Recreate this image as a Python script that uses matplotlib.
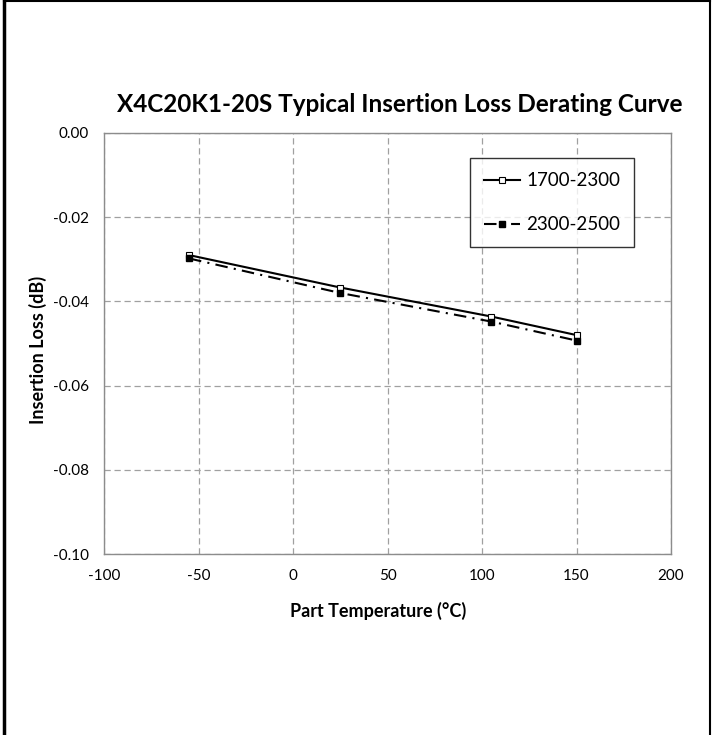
import matplotlib
matplotlib.use("Agg")
import matplotlib.pyplot as plt
from matplotlib.lines import Line2D

temps = [-55, 25, 105, 150]
loss_1700_2300 = [-0.0290, -0.0367, -0.0436, -0.0480]
loss_2300_2500 = [-0.0298, -0.0380, -0.0448, -0.0493]
series_labels = ["1700-2300", "2300-2500"]
xticks = [-100, -50, 0, 50, 100, 150, 200]
yticks = [0.00, -0.02, -0.04, -0.06, -0.08, -0.10]

plt.rcParams['font.family'] = ['Lato', 'DejaVu Sans']

fig = plt.figure(figsize=(7.12, 7.35), dpi=100)
L, R, T, B = 104, 671, 133, 554
ax = fig.add_axes([L/712, 1-B/735, (R-L)/712, (B-T)/735])

ax.plot(temps, loss_1700_2300, color='black', lw=1.5, marker='s', ms=5,
        mfc='white', mec='black', mew=0.8, label=series_labels[0])
ax.plot(temps, loss_2300_2500, color='black', lw=1.5, ls=(0, (6, 3, 1, 3)),
        marker='s', ms=5, mfc='black', mec='black', label=series_labels[1])

ax.set_xlim(-100, 200)
ax.set_ylim(-0.10, 0.0)
ax.set_xticks(xticks)
ax.set_yticks(yticks)
ax.set_xticklabels([f"{v}" for v in xticks])
ax.set_yticklabels([f"{v:.2f}" for v in yticks])
ax.tick_params(length=0, labelsize=11)
ax.tick_params(axis='x', pad=11)
ax.tick_params(axis='y', pad=11)
ax.grid(True, color='#a0a0a0', ls=(0, (5, 3)), lw=0.9)
for s in ax.spines.values():
    s.set_color('#8c8c8c')
    s.set_linewidth(1.0)

ax.set_xlabel("Part Temperature (\u00b0C)", fontsize=13, fontweight='bold')
ax.set_ylabel("Insertion Loss (dB)", fontsize=13, fontweight='bold')
ax.xaxis.set_label_coords((378-L)/(R-L), (B-611)/(B-T))
ax.yaxis.set_label_coords((38-L)/(R-L), (B-350)/(B-T))
ax.xaxis.label.set_va('center')
ax.yaxis.label.set_va('center')
fig.text(400/712, 1-105/735, "X4C20K1-20S Typical Insertion Loss Derating Curve",
         fontsize=17.5, fontweight='bold', ha='center', va='center')

leg = ax.legend(loc='upper left', bbox_to_anchor=((470-L)/(R-L), (B-158)/(B-T)),
                borderaxespad=0, fontsize=13.5,
                frameon=True, fancybox=False, handlelength=1.9, labelspacing=1.45,
                borderpad=0.75, handletextpad=0.35, markerscale=0.8)
leg.get_frame().set_edgecolor('black')
leg.get_frame().set_linewidth(1.0)

# outer border
fig.add_artist(Line2D([0.005, 0.005], [0, 0.998], color='black', lw=2.5, transform=fig.transFigure))
fig.add_artist(Line2D([0.005, 0.997], [0.998, 0.998], color='black', lw=1.5, transform=fig.transFigure))
fig.add_artist(Line2D([0.997, 0.997], [0, 0.998], color='black', lw=1.5, transform=fig.transFigure))

fig.savefig("out.png", dpi=100)
